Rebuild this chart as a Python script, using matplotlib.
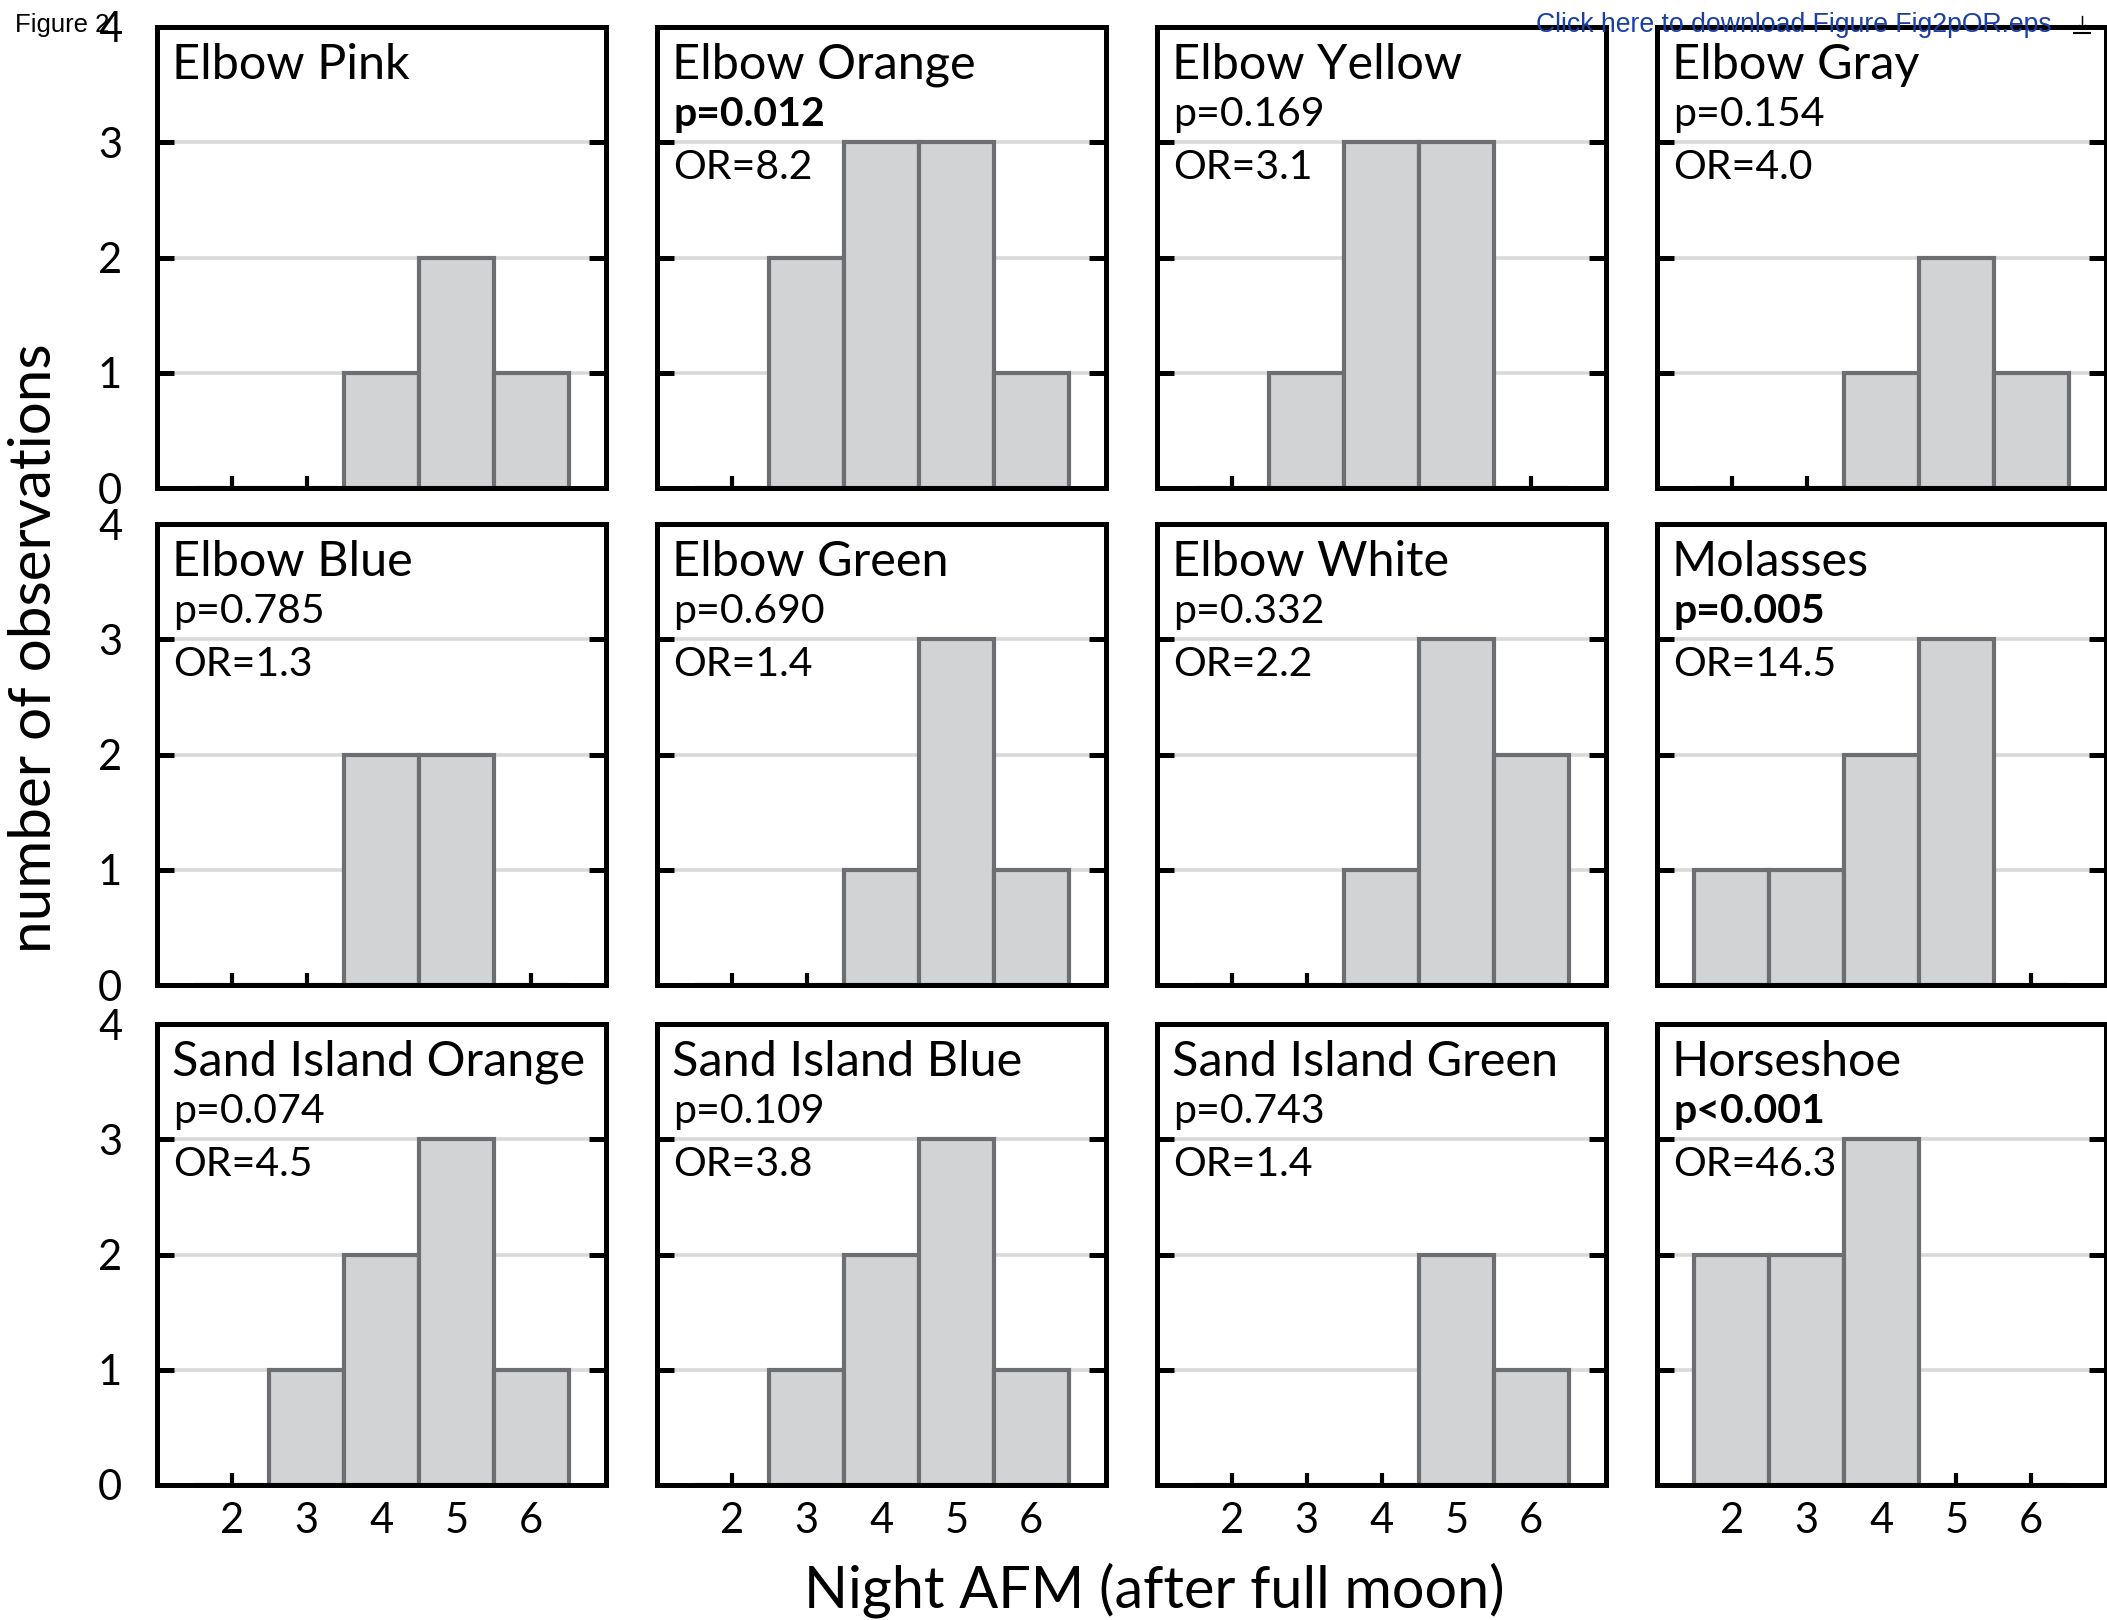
import matplotlib
matplotlib.use("Agg")
import matplotlib.pyplot as plt
from matplotlib.lines import Line2D

plt.rcParams['font.family'] = ['Lato', 'DejaVu Sans']

# ---- data ----
nights = [2, 3, 4, 5, 6]
titles = ["Elbow Pink", "Elbow Orange", "Elbow Yellow", "Elbow Gray",
          "Elbow Blue", "Elbow Green", "Elbow White", "Molasses",
          "Sand Island Orange", "Sand Island Blue", "Sand Island Green", "Horseshoe"]
counts = [
    [0, 0, 1, 2, 1],
    [0, 2, 3, 3, 1],
    [0, 1, 3, 3, 0],
    [0, 0, 1, 2, 1],
    [0, 0, 2, 2, 0],
    [0, 0, 1, 3, 1],
    [0, 0, 1, 3, 2],
    [1, 1, 2, 3, 0],
    [0, 1, 2, 3, 1],
    [0, 1, 2, 3, 1],
    [0, 0, 0, 2, 1],
    [2, 2, 3, 0, 0],
]
p_texts = [None, "p=0.012", "p=0.169", "p=0.154",
           "p=0.785", "p=0.690", "p=0.332", "p=0.005",
           "p=0.074", "p=0.109", "p=0.743", "p<0.001"]
p_bold = [False, True, False, False,
          False, False, False, True,
          False, False, False, True]
or_texts = [None, "OR=8.2", "OR=3.1", "OR=4.0",
            "OR=1.3", "OR=1.4", "OR=2.2", "OR=14.5",
            "OR=4.5", "OR=3.8", "OR=1.4", "OR=46.3"]
yticks = [0, 1, 2, 3, 4]

W, H = 2107, 1620
fig = plt.figure(figsize=(W / 100, H / 100), dpi=100)

col_left = [157, 657, 1157, 1657]
row_top = [27, 524, 1024]
aw, ah = 449, 461

FILL = '#d1d3d4'
EDGE = '#6d6e71'
GRID = '#d9d9d9'

for i, title in enumerate(titles):
    r, c = divmod(i, 4)
    l = col_left[c]
    t = row_top[r]
    ax = fig.add_axes([l / W, 1 - (t + ah) / H, aw / W, ah / H])
    ax.set_xlim(1, 7)
    ax.set_ylim(0, 4)
    for y in [1, 2, 3]:
        ax.axhline(y, xmin=0.04, xmax=0.96, color=GRID, lw=2.6, zorder=1)
    ax.bar(nights, counts[i], width=1, color=FILL, edgecolor=EDGE,
           linewidth=3.0, zorder=2)
    for s in ax.spines.values():
        s.set_linewidth(3.6)
        s.set_color('black')
        s.set_zorder(5)
    ax.set_xticks(nights)
    ax.set_yticks(yticks)
    ax.tick_params(axis='y', direction='in', length=12, width=3.6,
                   left=True, right=True, labelsize=30, pad=25)
    ax.tick_params(axis='x', direction='in', length=9, width=3,
                   bottom=True, top=False, labelsize=30, pad=12)
    if c != 0:
        ax.set_yticklabels([])
    if r != 2:
        ax.set_xticklabels([])
    ax.text(0.033, 0.918, title, transform=ax.transAxes, va='center',
            ha='left', fontsize=35, zorder=6)
    bb = dict(facecolor='white', edgecolor='none', pad=2)
    if p_texts[i]:
        ax.text(0.037, 0.81, p_texts[i], transform=ax.transAxes, va='center',
                ha='left', fontsize=29.5,
                fontweight='bold' if p_bold[i] else 'normal',
                bbox=bb, zorder=6)
    if or_texts[i]:
        ax.text(0.037, 0.695, or_texts[i], transform=ax.transAxes, va='center',
                ha='left', fontsize=29.5, bbox=bb, zorder=6)

fig.text(35 / W, 1 - 648 / H, "number of observations", rotation=90,
         ha='center', va='center', fontsize=42)
fig.text(1154 / W, 1 - 1590 / H, "Night AFM (after full moon)",
         ha='center', va='center', fontsize=41.5)

fig.text(15 / W, 1 - 32 / H, "Figure 2", ha='left', va='baseline',
         fontsize=18.5, family=['Liberation Sans', 'DejaVu Sans'], zorder=10)
fig.text(2052 / W, 1 - 32 / H, "Click here to download Figure Fig2pOR.eps",
         ha='right', va='baseline', fontsize=19.2, color='#1a3fa5',
         family=['Liberation Sans', 'DejaVu Sans'], zorder=10)
# small download icon: arrow with a bar underneath
fig.text(2082 / W, 1 - 24 / H, "\u2193", ha='center', va='center',
         fontsize=13, color='black', family=['DejaVu Sans'], zorder=10)
fig.add_artist(Line2D([2074 / W, 2090 / W], [1 - 33 / H, 1 - 33 / H],
                      transform=fig.transFigure, color='black', lw=1.5,
                      zorder=10))

fig.savefig("out.png", dpi=100)
